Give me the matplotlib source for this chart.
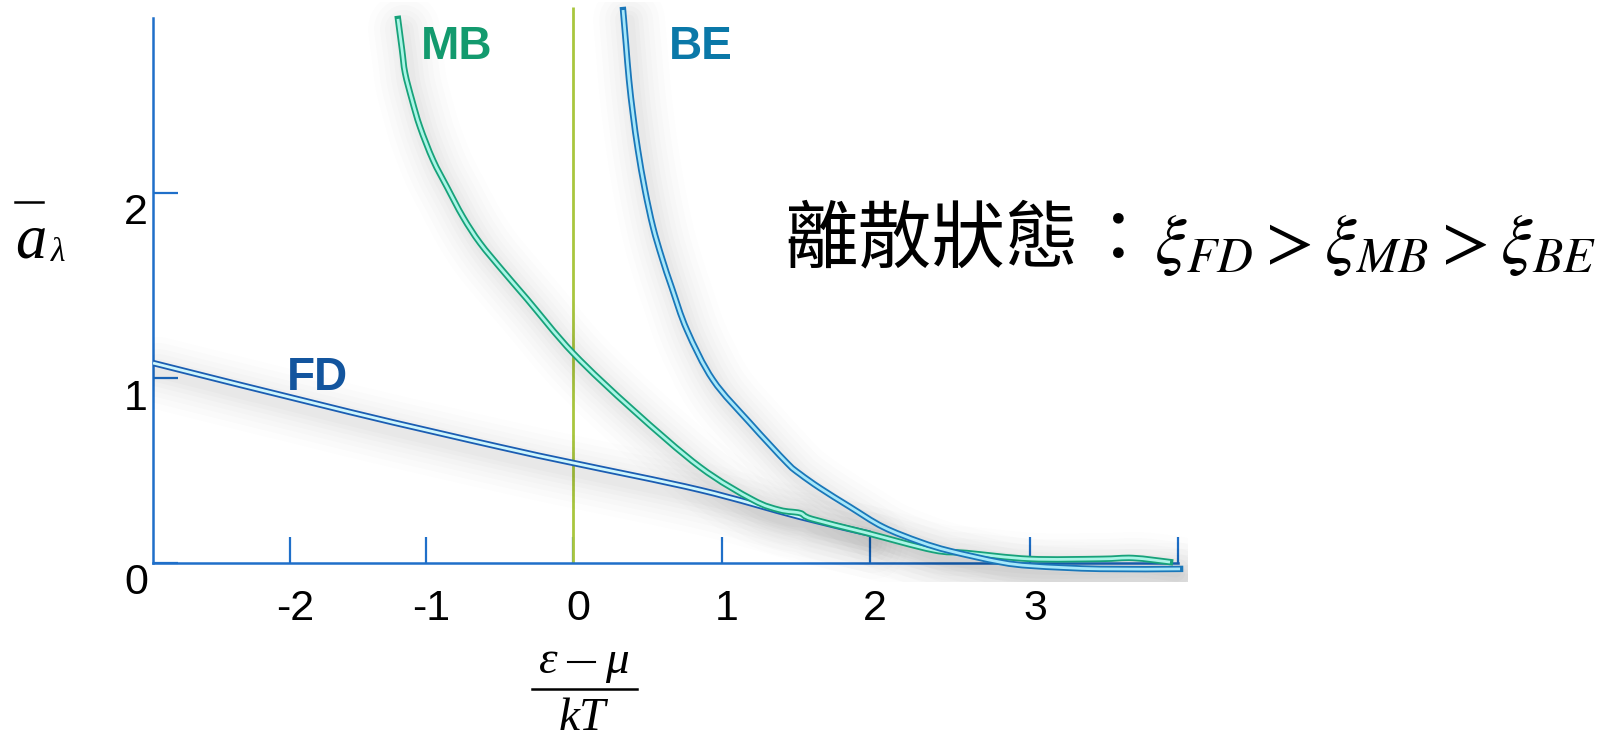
import matplotlib
matplotlib.use('Agg')
import numpy as np
import matplotlib.pyplot as plt
from matplotlib.transforms import ScaledTranslation
from matplotlib.lines import Line2D
from matplotlib.path import Path
from matplotlib.patches import PathPatch

W, H, DPI = 1608, 741, 100

# ---------------- data ----------------
x_ticks = [-2, -1, 0, 1, 2, 3, 4]
x_tick_labels = ['-2', '-1', '0', '1', '2', '3', '']
y_ticks = [0, 1, 2]
y_tick_labels = ['0', '1', '2']

fd_x = [-3.007, -1.559, -0.497, 0.000, 0.852, 1.527, 1.980]
fd_y = [1.081, 0.816, 0.627, 0.541, 0.395, 0.249, 0.162]

mb_x = [-1.206, -1.176, -1.154, -1.103, -1.044, -0.952, -0.857, -0.748, -0.633,
        -0.476, -0.313, 0.000, 0.403, 0.852, 1.209, 1.392, 1.527, 1.608,
        1.980, 2.394, 2.606, 3.000, 3.473, 3.696, 3.946]
mb_y = [2.941, 2.773, 2.649, 2.503, 2.357, 2.178, 2.032, 1.870, 1.730,
        1.578, 1.427, 1.135, 0.827, 0.519, 0.341, 0.286, 0.270, 0.238,
        0.162, 0.070, 0.054, 0.022, 0.022, 0.027, 0.005]

be_x = [0.336, 0.356, 0.376, 0.403, 0.436, 0.483, 0.537, 0.597, 0.664,
        0.765, 0.940, 1.189, 1.439, 1.527, 1.662, 1.865, 2.081, 2.313, 2.500,
        2.813, 3.020, 3.473, 4.014]
be_y = [2.989, 2.800, 2.611, 2.422, 2.232, 2.016, 1.816, 1.649, 1.486,
        1.259, 0.989, 0.757, 0.541, 0.481, 0.405, 0.303, 0.195, 0.114, 0.065,
        0.005, -0.016, -0.032, -0.032]

series_labels = ['FD', 'MB', 'BE']

# ---------------- layout ----------------
# hand-drawn axis: pixel position of each integer tick (piecewise-linear scale)
SCALE_NODES = [-3.5, -2, -1, 0, 1, 2, 3, 4, 4.5]
SCALE_PX = [86, 290, 426, 573, 722, 870, 1030, 1178, 1252]
Y0, YS = 563.0, 185.0
XLIM = (-3.007, 4.068)
YLIM = (-0.1, 3.03)

def fwd(v):
    return np.interp(v, SCALE_NODES, SCALE_PX)

def inv(p):
    return np.interp(p, SCALE_PX, SCALE_NODES)

left = float(fwd(XLIM[0])); right = float(fwd(XLIM[1]))
top = Y0 - YLIM[1] * YS; bottom = Y0 - YLIM[0] * YS

fig = plt.figure(figsize=(W / DPI, H / DPI), dpi=DPI)
fig.patch.set_facecolor('white')
ax = fig.add_axes([left / W, (H - bottom) / H, (right - left) / W, (bottom - top) / H])
ax.set_xscale('function', functions=(fwd, inv))
ax.set_xlim(*XLIM)
ax.set_ylim(*YLIM)
ax.patch.set_alpha(0)

AXC = '#1f6fc9'
for s in ['top', 'right']:
    ax.spines[s].set_visible(False)
ax.spines['bottom'].set_position(('data', 0))
ax.spines['bottom'].set_bounds(XLIM[0], 4.0)
ax.spines['left'].set_bounds(0, 2.946)
for s in ['bottom', 'left']:
    ax.spines[s].set_color(AXC)
    ax.spines[s].set_linewidth(1.8)

ax.set_xticks(x_ticks)
ax.set_xticklabels(x_tick_labels)
ax.set_yticks(y_ticks)
ax.set_yticklabels(y_tick_labels)
ax.minorticks_off()
ax.tick_params(axis='x', direction='in', length=18.7, width=1.6, color=AXC,
               pad=19.0, labelsize=31)
ax.tick_params(axis='y', direction='in', length=18.0, width=1.6, color=AXC,
               pad=3.6, labelsize=31)
for lab in ax.get_xticklabels() + ax.get_yticklabels():
    lab.set_fontfamily('Liberation Sans')
    lab.set_color('black')
for lab in ax.get_xticklabels():
    lab.set_transform(lab.get_transform() + ScaledTranslation(5 / DPI, 0, fig.dpi_scale_trans))
for lab in ax.get_yticklabels():
    lab.set_transform(lab.get_transform() + ScaledTranslation(0, -16 / DPI, fig.dpi_scale_trans))

# zero reference line
ax.vlines(0, 0, 3.005, color='#a9c63e', linewidth=2.0, zorder=2)

# ---------------- curves ----------------
styles = {
    'FD': dict(outer='#1b5db2', inner='#cdf6fd'),
    'MB': dict(outer='#17a27a', inner='#aaf5e6'),
    'BE': dict(outer='#1a77b9', inner='#a6e8fa'),
}
data = {'FD': (fd_x, fd_y), 'MB': (mb_x, mb_y), 'BE': (be_x, be_y)}


def smooth_path(xs, ys):
    """Catmull-Rom spline through the given points as cubic Bezier segments."""
    px = fwd(np.asarray(xs, float))
    py = np.asarray(ys, float) * YS
    pts = np.column_stack([px, py])
    n = len(pts)
    verts = [pts[0]]
    codes = [Path.MOVETO]
    for i in range(n - 1):
        p0 = pts[i - 1] if i > 0 else pts[i]
        p1 = pts[i]
        p2 = pts[i + 1]
        p3 = pts[i + 2] if i + 2 < n else pts[i + 1]
        c1 = p1 + (p2 - p0) / 6.0
        c2 = p2 - (p3 - p1) / 6.0
        verts += [c1, c2, p2]
        codes += [Path.CURVE4] * 3
    verts = np.array(verts)
    verts[:, 0] = inv(verts[:, 0])
    verts[:, 1] = verts[:, 1] / YS
    return Path(verts, codes)


paths = {name: smooth_path(*data[name]) for name in series_labels}

shadow_tr = ax.transData + ScaledTranslation(6 / DPI, -10 / DPI, fig.dpi_scale_trans)
for name in series_labels:
    for lw, a in [(72, 0.009), (60, 0.010), (48, 0.012), (38, 0.013), (28, 0.014),
                  (19, 0.015), (11, 0.015)]:
        ax.add_patch(PathPatch(paths[name], fill=False, edgecolor='black', alpha=a,
                               linewidth=lw * 0.72, capstyle='round', joinstyle='round',
                               transform=shadow_tr, zorder=3))

for i, name in enumerate(series_labels):
    st = styles[name]
    ax.add_patch(PathPatch(paths[name], fill=False, edgecolor=st['outer'], linewidth=4.6,
                           capstyle='projecting', joinstyle='round', zorder=5 + 2 * i))
    ax.add_patch(PathPatch(paths[name], fill=False, edgecolor=st['inner'], linewidth=2.0,
                           capstyle='butt', joinstyle='round', zorder=6 + 2 * i))

# ---------------- labels ----------------
def ftxt(px, py, s, **kw):
    return fig.text(px / W, 1 - py / H, s, **kw)

ftxt(457, 47, 'MB', color='#139a6e', fontsize=33, fontweight='bold',
     family='Liberation Sans', ha='center', va='center')
ftxt(701, 47, 'BE', color='#0a78a8', fontsize=33, fontweight='bold',
     family='Liberation Sans', ha='center', va='center')
ftxt(317, 378, 'FD', color='#13559e', fontsize=33, fontweight='bold',
     family='Liberation Sans', ha='center', va='center')

# y axis label  a-bar lambda
ftxt(15, 258, 'a', fontsize=45, style='italic', family='Liberation Serif',
     ha='left', va='baseline')
ftxt(51, 261, 'λ', fontsize=24, style='italic', family='Liberation Serif',
     ha='left', va='baseline')
fig.add_artist(Line2D([15 / W, 43 / W], [1 - 202 / H, 1 - 202 / H],
                      color='black', linewidth=1.8))

# x axis label fraction
ftxt(548, 673, 'ε', fontsize=34, style='italic', family='Liberation Serif',
     ha='center', va='baseline')
fig.add_artist(Line2D([568 / W, 595 / W], [1 - 662 / H, 1 - 662 / H],
                      color='black', linewidth=1.5))
ftxt(617, 673, 'μ', fontsize=34, style='italic', family='Liberation Serif',
     ha='center', va='baseline')
fig.add_artist(Line2D([532 / W, 637 / W], [1 - 689 / H, 1 - 689 / H],
                      color='black', linewidth=1.8))
ftxt(582, 740, 'kT', fontsize=34, style='italic', family='Liberation Serif',
     ha='center', va='bottom')

# right annotation
ftxt(784, 241, '離散狀態', fontsize=53, family=['Noto Sans CJK TC', 'DejaVu Sans'],
     ha='left', va='center')
ftxt(1118, 241, '：', fontsize=51, family=['Noto Sans CJK TC', 'DejaVu Sans'],
     ha='center', va='center')
plt.rcParams['mathtext.fontset'] = 'stix'
ftxt(1154, 263, r'$\xi_{FD} > \xi_{MB} > \xi_{BE}$', fontsize=51,
     ha='left', va='baseline')

fig.savefig('out.png', dpi=DPI, facecolor='white')
